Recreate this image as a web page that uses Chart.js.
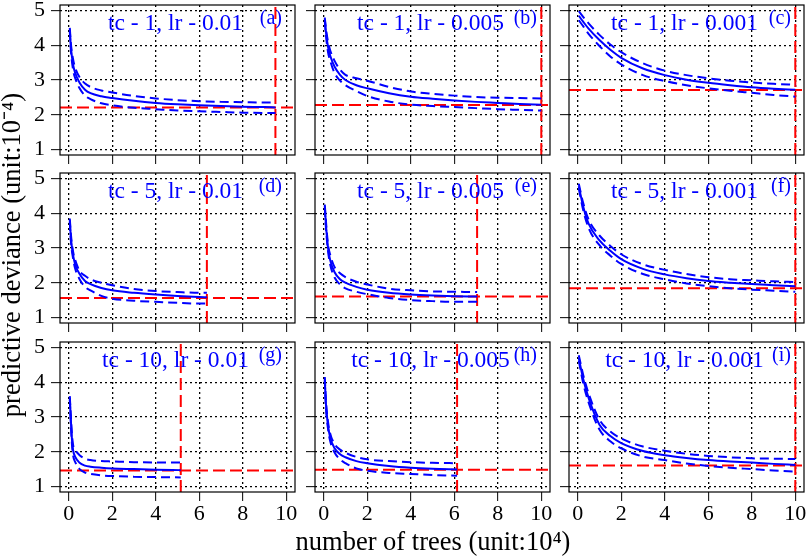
<!DOCTYPE html>
<html><head><meta charset="utf-8">
<script src="https://cdn.jsdelivr.net/npm/chart.js@4"></script>
<style>
html,body{margin:0;padding:0;background:#fff;width:809px;height:558px;overflow:hidden;position:relative}
canvas{position:absolute}
</style></head><body>
<script>
// ---- data ----
const titles = ['tc - 1, lr - 0.01','tc - 1, lr - 0.005','tc - 1, lr - 0.001',
                'tc - 5, lr - 0.01','tc - 5, lr - 0.005','tc - 5, lr - 0.001',
                'tc - 10, lr - 0.01','tc - 10, lr - 0.005','tc - 10, lr - 0.001'];
const tags = ['(a)','(b)','(c)','(d)','(e)','(f)','(g)','(h)','(i)'];
const xTicks = [0,2,4,6,8,10];
const yTicks = [1,2,3,4,5];
const xLabel = 'number of trees (unit:10\u2074)';
const yLabel = 'predictive deviance (unit:10\u207B\u2074)';

// optimal number of trees (vertical red line) and minimum deviance (horizontal red line)
const optTrees = [9.5, 10, 10, 6.35, 7.05, 10, 5.15, 6.13, 10];
const minDev   = [2.21, 2.28, 2.71, 1.56, 1.60, 1.84, 1.46, 1.48, 1.60];

// (a) tc 1, lr 0.01
const xA    = [0.05,0.1,0.2,0.3,0.5,0.75,1,1.5,2,3,4,5,6,7,8,9,9.5];
const meanA = [4.45,3.95,3.45,3.2,2.92,2.72,2.62,2.53,2.48,2.4,2.34,2.3,2.27,2.25,2.23,2.22,2.21];
const upA   = [4.5,4.05,3.6,3.35,3.08,2.9,2.8,2.7,2.64,2.54,2.47,2.42,2.39,2.37,2.36,2.35,2.35];
const loA   = [4.4,3.85,3.3,3.05,2.76,2.55,2.45,2.33,2.27,2.2,2.16,2.12,2.1,2.08,2.06,2.05,2.05];
// (b) tc 1, lr 0.005
const xB    = [0.05,0.1,0.2,0.3,0.5,0.75,1,1.5,2,3,4,5,6,7,8,9,10];
const meanB = [4.75,4.4,3.95,3.7,3.38,3.15,3.0,2.85,2.76,2.62,2.52,2.46,2.41,2.37,2.34,2.31,2.29];
const upB   = [4.8,4.5,4.1,3.85,3.55,3.3,3.15,3.05,2.98,2.8,2.67,2.6,2.55,2.51,2.49,2.48,2.47];
const loB   = [4.7,4.3,3.8,3.55,3.2,2.98,2.85,2.68,2.54,2.38,2.29,2.25,2.22,2.19,2.16,2.14,2.12];
// (c) tc 1, lr 0.001
const xC    = [0.05,0.25,0.5,1,1.5,2,3,4,5,6,7,8,9,10];
const meanC = [4.85,4.68,4.48,4.15,3.87,3.64,3.33,3.14,3.01,2.92,2.85,2.79,2.75,2.72];
const upC   = [4.98,4.82,4.63,4.3,4.02,3.8,3.48,3.27,3.14,3.05,2.98,2.93,2.89,2.86];
const loC   = [4.72,4.55,4.33,3.98,3.68,3.45,3.14,2.97,2.85,2.76,2.69,2.63,2.57,2.52];
// (d) tc 5, lr 0.01
const xD    = [0.05,0.1,0.2,0.3,0.5,0.75,1,1.5,2,3,4,5,6,6.35];
const meanD = [3.8,3.3,2.8,2.52,2.25,2.05,1.96,1.85,1.78,1.71,1.66,1.62,1.59,1.58];
const upD   = [3.85,3.4,2.9,2.65,2.34,2.2,2.1,2.0,1.93,1.82,1.76,1.73,1.71,1.71];
const loD   = [3.75,3.2,2.7,2.4,2.1,1.88,1.78,1.62,1.54,1.48,1.45,1.42,1.4,1.4];
// (e) tc 5, lr 0.005
const xE    = [0.05,0.1,0.2,0.3,0.5,0.75,1,1.5,2,3,4,5,6,7.05];
const meanE = [4.2,3.7,3.0,2.65,2.3,2.1,2.0,1.88,1.8,1.71,1.66,1.63,1.61,1.6];
const upE   = [4.25,3.8,3.1,2.8,2.45,2.27,2.16,2.03,1.95,1.83,1.78,1.75,1.74,1.73];
const loE   = [4.15,3.6,2.9,2.52,2.15,1.95,1.84,1.74,1.67,1.56,1.5,1.47,1.45,1.45];
// (f) tc 5, lr 0.001
const xF    = [0.05,0.25,0.5,1,1.5,2,3,4,5,6,7,8,9,10];
const meanF = [4.78,4.2,3.7,3.22,2.92,2.68,2.4,2.24,2.13,2.05,2.0,1.96,1.93,1.9];
const upF   = [4.85,4.3,3.82,3.36,3.06,2.82,2.53,2.37,2.25,2.16,2.1,2.07,2.04,2.02];
const loF   = [4.72,4.1,3.58,3.08,2.78,2.54,2.25,2.1,1.98,1.9,1.84,1.8,1.77,1.74];
// (g) tc 10, lr 0.01
const xG    = [0.05,0.1,0.15,0.2,0.3,0.5,0.75,1,1.5,2,3,4,5.15];
const meanG = [3.56,2.9,2.35,2.05,1.85,1.68,1.6,1.57,1.54,1.52,1.5,1.48,1.47];
const upG   = [3.6,3.0,2.5,2.2,2.05,1.9,1.8,1.76,1.73,1.72,1.7,1.69,1.69];
const loG   = [3.5,2.8,2.2,1.9,1.7,1.5,1.4,1.36,1.32,1.3,1.28,1.27,1.26];
// (h) tc 10, lr 0.005
const xH    = [0.05,0.1,0.2,0.3,0.5,0.75,1,1.5,2,3,4,5,6.13];
const meanH = [4.1,3.4,2.75,2.4,2.1,1.93,1.84,1.73,1.67,1.59,1.54,1.51,1.49];
const upH   = [4.15,3.5,2.85,2.52,2.22,2.06,1.97,1.85,1.78,1.73,1.7,1.68,1.67];
const loH   = [4.05,3.3,2.65,2.3,1.98,1.78,1.67,1.52,1.45,1.39,1.36,1.33,1.31];
// (i) tc 10, lr 0.001
const xI    = [0.05,0.25,0.5,1,1.5,2,3,4,5,6,7,8,9,10];
const meanI = [4.7,4.1,3.55,2.78,2.45,2.25,2.02,1.9,1.82,1.76,1.72,1.69,1.65,1.62];
const upI   = [4.78,4.22,3.68,2.92,2.58,2.38,2.15,2.03,1.94,1.88,1.84,1.81,1.8,1.79];
const loI   = [4.62,3.98,3.42,2.64,2.3,2.1,1.86,1.76,1.66,1.59,1.54,1.5,1.46,1.43];

const panels = [
  [xA,meanA,upA,loA],[xB,meanB,upB,loB],[xC,meanC,upC,loC],
  [xD,meanD,upD,loD],[xE,meanE,upE,loE],[xF,meanF,upF,loF],
  [xG,meanG,upG,loG],[xH,meanH,upH,loH],[xI,meanI,upI,loI]
];

// ---- layout ----
const X_MIN = -0.4, X_MAX = 10.4, Y_MIN = 0.84, Y_MAX = 5.16;
const boxLeft = [60, 314.5, 568.7];
const boxTop  = [5, 172.7, 342.3];
const L = 60, T = 5, R = 6, B = 66, BW = 235, BH = 150;
const FONT = 'Liberation Serif';
const TITLE_FONT = {family: FONT, size: 26.5, lineHeight: 1.0};
Chart.defaults.font.family = FONT;
Chart.defaults.color = '#000';

const pts = (xs, ys) => xs.map((x, i) => ({x, y: ys[i]}));

function makeCanvas(left, top, w, h) {
  const cv = document.createElement('canvas');
  cv.width = w; cv.height = h;
  cv.style.left = left + 'px'; cv.style.top = top + 'px';
  cv.style.width = w + 'px'; cv.style.height = h + 'px';
  document.body.appendChild(cv);
  return cv;
}

panels.forEach((p, k) => {
  const r = Math.floor(k / 3), c = k % 3;
  const cv = makeCanvas(boxLeft[c] - L, boxTop[r] - T, L + BW + R, T + BH + B);
  const [xs, mean, up, lo] = p;
  const blue = '#0000ff', red = '#ff0000';
  const lineBase = {pointRadius: 0, borderWidth: 2, fill: false, cubicInterpolationMode: 'monotone'};
  new Chart(cv, {
    type: 'line',
    data: { datasets: [
      Object.assign({data: pts(xs, mean), borderColor: blue}, lineBase),
      Object.assign({data: pts(xs, up), borderColor: blue, borderDash: [9, 5]}, lineBase),
      Object.assign({data: pts(xs, lo), borderColor: blue, borderDash: [9, 5]}, lineBase),
      {data: [{x: X_MIN, y: minDev[k]}, {x: X_MAX, y: minDev[k]}], borderColor: red, borderDash: [12, 5], borderWidth: 2, pointRadius: 0},
      {data: [{x: optTrees[k], y: Y_MIN}, {x: optTrees[k], y: Y_MAX}], borderColor: red, borderDash: [12, 5], borderWidth: 2, pointRadius: 0}
    ]},
    options: {
      responsive: false, animation: false, events: [],
      layout: {padding: {left: 0, top: T, right: R, bottom: 0}},
      plugins: {legend: {display: false}, tooltip: {enabled: false}},
      scales: {
        x: {
          type: 'linear', min: X_MIN, max: X_MAX, position: 'bottom',
          afterBuildTicks: s => { s.ticks = xTicks.map(v => ({value: v})); },
          afterFit: s => { s.height = B; s.paddingLeft = 0; s.paddingRight = 0; },
          ticks: {display: r === 2, autoSkip: false, maxRotation: 0, padding: 0, color: '#000',
                  font: {family: FONT, size: 22}, callback: v => String(v)},
          grid: {color: '#000', lineWidth: 1.3, drawTicks: true, tickLength: 9, tickColor: '#000', tickWidth: 1},
          border: {display: false, dash: [2, 3]}
        },
        y: {
          type: 'linear', min: Y_MIN, max: Y_MAX, position: 'left',
          afterBuildTicks: s => { s.ticks = yTicks.map(v => ({value: v})); },
          afterFit: s => { s.width = L; s.paddingTop = 0; s.paddingBottom = 0; },
          ticks: {display: c === 0, autoSkip: false, padding: 6, color: '#000',
                  font: {family: FONT, size: 22}, callback: v => String(v)},
          grid: {color: '#000', lineWidth: 1.3, drawTicks: true, tickLength: 9, tickColor: '#000', tickWidth: 1},
          border: {display: false, dash: [2, 3]}
        }
      }
    },
    plugins: [{
      id: 'deco',
      afterDatasetsDraw(chart) {
        const a = chart.chartArea, ctx = chart.ctx;
        ctx.save();
        ctx.setLineDash([]);
        ctx.strokeStyle = '#000'; ctx.lineWidth = 1.2;
        ctx.strokeRect(a.left, a.top, a.right - a.left, a.bottom - a.top);
        ctx.fillStyle = '#0000ff';
        ctx.textBaseline = 'middle';
        ctx.font = '23.5px "' + FONT + '"'; ctx.textAlign = 'center';
        ctx.fillText(titles[k], (a.left + a.right) / 2 - 2, a.top + 19);
        ctx.font = '20px "' + FONT + '"'; ctx.textAlign = 'right';
        ctx.fillText(tags[k], a.right - 13, a.top + 14);
        ctx.restore();
      }
    }]
  });
});

// shared y-axis title spanning the full grid height (centred at y ~255)
const tcv = makeCanvas(0, 0, 60, 558);
new Chart(tcv, {
  type: 'line',
  data: {datasets: []},
  options: {
    responsive: false, animation: false, events: [],
    layout: {padding: {left: 0, top: 5, right: 0, bottom: 53}},
    plugins: {legend: {display: false}, tooltip: {enabled: false}},
    scales: {
      x: {type: 'linear', display: false, min: X_MIN, max: X_MAX},
      y: {
        type: 'linear', min: Y_MIN, max: Y_MAX, position: 'left',
        afterFit: s => { s.width = 35; s.paddingTop = 0; s.paddingBottom = 0; },
        ticks: {display: false},
        grid: {display: false, drawTicks: false},
        border: {display: false},
        title: {display: true, text: yLabel, color: '#000', padding: 0, font: TITLE_FONT}
      }
    }
  }
});

// shared x-axis title, centred at x ~433
const xcv = makeCanvas(133, 498, 600, 60);
new Chart(xcv, {
  type: 'line',
  data: {datasets: []},
  options: {
    responsive: false, animation: false, events: [],
    layout: {padding: 0},
    plugins: {legend: {display: false}, tooltip: {enabled: false}},
    scales: {
      x: {
        type: 'linear', min: X_MIN, max: X_MAX, position: 'bottom',
        afterFit: s => { s.height = 58; s.paddingLeft = 0; s.paddingRight = 0; },
        ticks: {display: false},
        grid: {display: false, drawTicks: false},
        border: {display: false},
        title: {display: true, text: xLabel, color: '#000', padding: {top: 0, bottom: 2}, font: TITLE_FONT}
      },
      y: {type: 'linear', display: false, min: Y_MIN, max: Y_MAX}
    }
  }
});
</script>
</body></html>
